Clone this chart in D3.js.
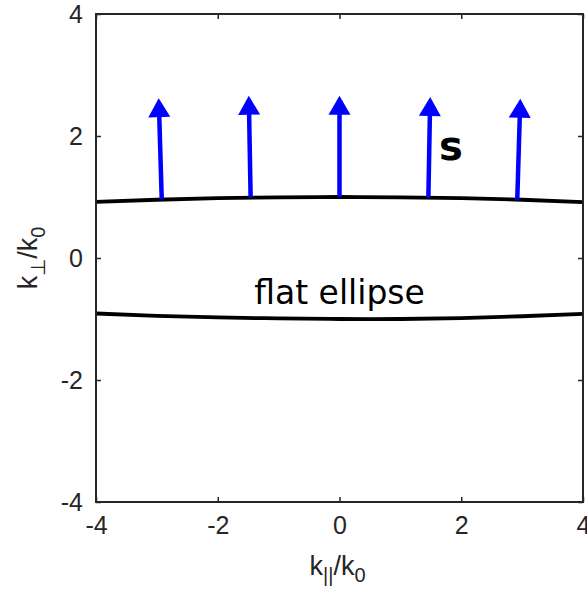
<!DOCTYPE html>
<html>
<head>
<meta charset="utf-8">
<script src="https://cdn.jsdelivr.net/npm/d3@7"></script>
<style>
  body { margin: 0; background: #fff; }
  svg { display: block; }
</style>
</head>
<body>
<div id="chart"></div>
<script>

// data
var xTicks = [-4, -2, 0, 2, 4];
var yTicks = [-4, -2, 0, 2, 4];

var curveX = [-4, -3, -2, -1, 0, 1, 2, 3, 4];
var upperY = [0.92, 0.955, 0.98, 0.995, 1.0, 0.995, 0.98, 0.955, 0.915];
var lowerY = [-0.91, -0.95, -0.975, -0.99, -1.0, -1.0, -0.985, -0.955, -0.915];

var arrowTailX = [-2.92, -1.46, 0, 1.46, 2.92];
var arrowTailY = [0.96, 0.99, 1.0, 0.99, 0.955];
var arrowTipX = [-2.97, -1.49, 0, 1.49, 2.97];
var arrowTipY = [2.62, 2.66, 2.66, 2.64, 2.61];

var settings = {
  width: 587,
  height: 597,
  margin: [14, 4, 95, 96],
  axisColor: '#262626',
  tickFont: '"Liberation Sans", Arial, sans-serif'
};

function translate(x, y) {
  return 'translate(' + x + ',' + y + ')';
}

// MATLAB style labels use a plain hyphen
function tickText(d) {
  return String(d);
}

var innerWidth = settings.width - settings.margin[1] - settings.margin[3];
var innerHeight = settings.height - settings.margin[0] - settings.margin[2];

var x = d3.scaleLinear().domain([-4, 4]).range([0, innerWidth]);
var y = d3.scaleLinear().domain([-4, 4]).range([innerHeight, 0]);

var svg = d3.select('#chart').append('svg')
  .attr('width', settings.width)
  .attr('height', settings.height);

var g = svg.append('g')
  .attr('transform', translate(settings.margin[3], settings.margin[0]));

// ellipse curves
var line = d3.line()
  .x(function(d) { return x(d[0]); })
  .y(function(d) { return y(d[1]); })
  .curve(d3.curveNatural);

[upperY, lowerY].forEach(function(ys) {
  g.append('path')
    .attr('d', line(curveX.map(function(v, i) { return [v, ys[i]]; })))
    .attr('fill', 'none')
    .attr('stroke', '#000')
    .attr('stroke-width', 3.8);
});

// arrows (shaft + head)
var headLen = 19, headHalf = 11;
arrowTailX.forEach(function(tx, i) {
  var x0 = x(tx), y0 = y(arrowTailY[i]);
  var x1 = x(arrowTipX[i]), y1 = y(arrowTipY[i]);
  var dx = x1 - x0, dy = y1 - y0;
  var len = Math.sqrt(dx * dx + dy * dy);
  var ux = dx / len, uy = dy / len;
  var bx = x1 - ux * headLen, by = y1 - uy * headLen;

  g.append('line')
    .attr('x1', x0).attr('y1', y0)
    .attr('x2', bx + ux * 2).attr('y2', by + uy * 2)
    .attr('stroke', '#0000ff')
    .attr('stroke-width', 4.5);

  g.append('path')
    .attr('d', 'M' + x1 + ',' + y1 +
      'L' + (bx - uy * headHalf) + ',' + (by + ux * headHalf) +
      'L' + (bx + uy * headHalf) + ',' + (by - ux * headHalf) + 'Z')
    .attr('fill', '#0000ff');
});

// annotations
g.append('text')
  .attr('x', x(0)).attr('y', y(-0.75))
  .attr('text-anchor', 'middle')
  .attr('font-family', '"DejaVu Sans", sans-serif')
  .attr('font-size', 33)
  .attr('fill', '#000')
  .text('flat ellipse');

g.append('text')
  .attr('x', x(1.83)).attr('y', y(1.61))
  .attr('text-anchor', 'middle')
  .attr('font-family', '"DejaVu Sans", sans-serif')
  .attr('font-weight', 'bold')
  .attr('font-size', 40)
  .attr('fill', '#000')
  .text('s');

// axes box with inward ticks on all sides
var tickLen = 5;
function styleAxis(sel) {
  sel.select('.domain').remove();
  sel.selectAll('.tick line').attr('stroke', settings.axisColor).attr('stroke-width', 1.5);
  sel.selectAll('.tick text')
    .attr('fill', settings.axisColor)
    .attr('font-family', settings.tickFont)
    .attr('font-size', 25);
}

g.append('g')
  .attr('transform', translate(0, innerHeight))
  .call(d3.axisBottom(x).tickValues(xTicks).tickFormat(tickText)
    .tickSizeInner(-tickLen).tickSizeOuter(0).tickPadding(14))
  .call(styleAxis);

g.append('g')
  .call(d3.axisLeft(y).tickValues(yTicks).tickFormat(tickText)
    .tickSizeInner(-tickLen).tickSizeOuter(0).tickPadding(13))
  .call(styleAxis);

var topAxis = g.append('g')
  .call(d3.axisTop(x).tickValues(xTicks).tickSizeInner(-tickLen).tickSizeOuter(0))
  .call(styleAxis);
topAxis.selectAll('.tick text').remove();

var rightAxis = g.append('g')
  .attr('transform', translate(innerWidth, 0))
  .call(d3.axisRight(y).tickValues(yTicks).tickSizeInner(-tickLen).tickSizeOuter(0))
  .call(styleAxis);
rightAxis.selectAll('.tick text').remove();

g.append('rect')
  .attr('width', innerWidth).attr('height', innerHeight)
  .attr('fill', 'none')
  .attr('stroke', settings.axisColor)
  .attr('stroke-width', 2);

// axis labels
var xl = svg.append('text')
  .attr('x', settings.margin[3] + x(0) - 2)
  .attr('y', 575)
  .attr('text-anchor', 'middle')
  .attr('font-family', settings.tickFont)
  .attr('font-size', 27)
  .attr('fill', settings.axisColor);
xl.append('tspan').text('k');
xl.append('tspan').attr('dy', 7).attr('font-size', 20).text('||');
xl.append('tspan').attr('dy', -7).text('/k');
xl.append('tspan').attr('dy', 7).attr('font-size', 20).text('0');

var yl = svg.append('text')
  .attr('transform', translate(37, settings.margin[0] + y(0)) + ' rotate(-90)')
  .attr('text-anchor', 'middle')
  .attr('font-family', settings.tickFont)
  .attr('font-size', 27)
  .attr('fill', settings.axisColor);
yl.append('tspan').text('k');
yl.append('tspan').attr('dy', 8).attr('font-size', 20).text('\u22A5');
yl.append('tspan').attr('dy', -8).text('/k');
yl.append('tspan').attr('dy', 8).attr('font-size', 20).text('0');

</script>
</body>
</html>
